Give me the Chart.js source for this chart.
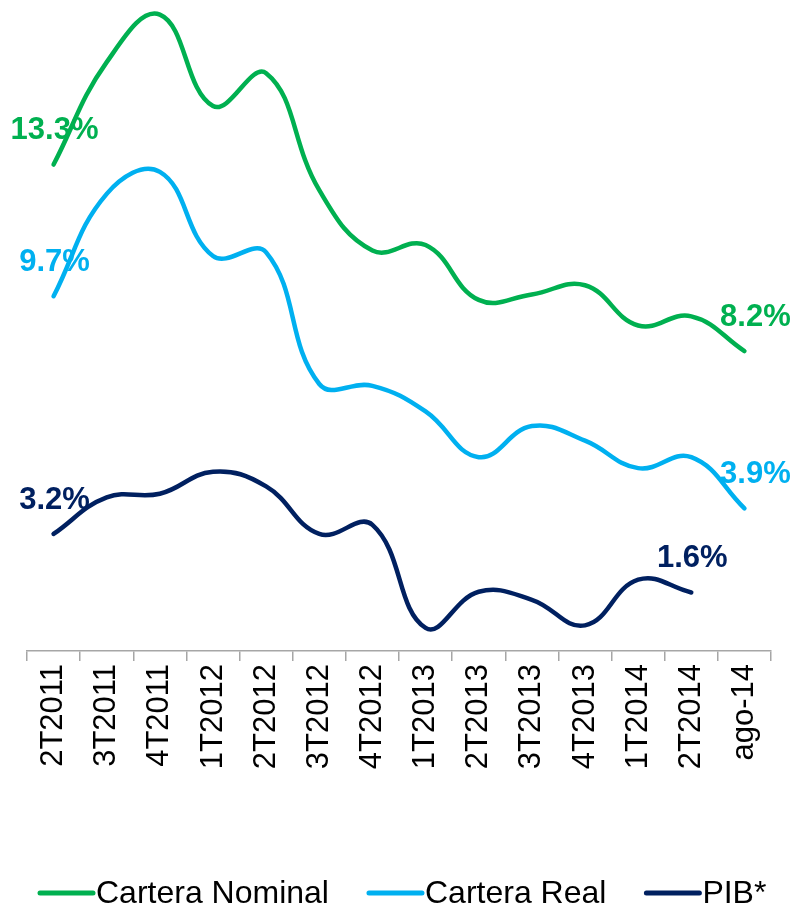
<!DOCTYPE html>
<html>
<head>
<meta charset="utf-8">
<script src="https://cdn.jsdelivr.net/npm/chart.js@4/dist/chart.umd.min.js"></script>
<style>
    body { margin: 0; background: #fff; }
    #wrap { width: 795px; height: 910px; }
</style>
</head>
<body>
<div id="wrap"><canvas id="cartera" width="795" height="910"></canvas></div>
<script>
// periods on the x axis
const periods = ['2T2011', '3T2011', '4T2011', '1T2012', '2T2012', '3T2012', '4T2012',
    '1T2013', '2T2013', '3T2013', '4T2013', '1T2014', '2T2014', 'ago-14'];

// growth rates, %
const carteraNominal = [13.3, 16.1, 17.4, 14.9, 15.8, 12.6, 10.95, 11.1, 9.6, 9.75, 10.0, 8.9, 9.15, 8.2];
const carteraReal = [9.7, 12.5, 13.1, 10.8, 10.9, 7.3, 7.25, 6.55, 5.3, 6.15, 5.75, 5.0, 5.3, 3.9];
const pib = [3.2, 4.2, 4.3, 4.9, 4.5, 3.2, 3.45, 0.63, 1.62, 1.4, 0.7, 1.95, 1.6, null];

const seriesNames = ['Cartera Nominal', 'Cartera Real', 'PIB*'];
const seriesColors = ['#00B050', '#00B0F0', '#002060'];

const FONT = '"Liberation Sans", Arial, sans-serif';

// first / last value labels above the line ends
const endLabels = {
    id: 'endLabels',
    afterDatasetsDraw(chart) {
        const ctx = chart.ctx;
        const last = chart.data.labels.length - 1;
        ctx.save();
        ctx.font = 'bold 31px ' + FONT;
        ctx.textAlign = 'center';
        ctx.textBaseline = 'middle';
        chart.data.datasets.forEach((ds, i) => {
            const pts = chart.getDatasetMeta(i).data;
            const idx = [];
            ds.data.forEach((v, k) => { if (v !== null) idx.push(k); });
            [idx[0], idx[idx.length - 1]].forEach(k => {
                const txt = ds.data[k].toFixed(1) + '%';
                // labels on the very last category sit a bit to the right
                const dx = k === last ? 11 : 1;
                ctx.fillStyle = ds.borderColor;
                ctx.fillText(txt, pts[k].x + dx, pts[k].y - 34);
            });
        });
        ctx.restore();
    }
};

// legend with short line swatches hugging the text
const lineLegend = {
    id: 'lineLegend',
    afterDraw(chart) {
        const ctx = chart.ctx;
        const y = 893;
        let x = 40;
        ctx.save();
        ctx.font = '32px ' + FONT;
        ctx.textBaseline = 'middle';
        ctx.textAlign = 'left';
        chart.data.datasets.forEach(ds => {
            ctx.strokeStyle = ds.borderColor;
            ctx.lineWidth = 5;
            ctx.lineCap = 'round';
            ctx.beginPath();
            ctx.moveTo(x, y);
            ctx.lineTo(x + 53, y);
            ctx.stroke();
            x += 56;
            ctx.fillStyle = '#000';
            ctx.fillText(ds.label, x, y + 1);
            x += ctx.measureText(ds.label).width + 40;
        });
        ctx.restore();
    }
};

const values = [carteraNominal, carteraReal, pib];

new Chart(document.getElementById('cartera'), {
    type: 'line',
    data: {
        labels: periods,
        datasets: values.map((v, i) => ({
            label: seriesNames[i],
            data: v,
            borderColor: seriesColors[i],
            backgroundColor: seriesColors[i],
            borderWidth: 4.5,
            borderCapStyle: 'round',
            tension: 0.42,
            pointRadius: 0,
            fill: false,
            clip: false,
            spanGaps: false
        }))
    },
    options: {
        responsive: false,
        animation: false,
        layout: { padding: { left: 27, right: 24, top: 0, bottom: 0 } },
        plugins: {
            legend: { display: false },
            tooltip: { enabled: false }
        },
        scales: {
            x: {
                offset: true,
                grid: {
                    offset: true,
                    drawOnChartArea: false,
                    drawTicks: true,
                    tickLength: 10,
                    color: '#A6A6A6',
                    lineWidth: 1.5
                },
                border: { display: true, color: '#A6A6A6', width: 1.5 },
                ticks: {
                    autoSkip: false,
                    maxRotation: 90,
                    minRotation: 90,
                    padding: 3,
                    color: '#000',
                    font: { family: FONT, size: 31 }
                },
                afterFit(scale) {
                    scale.height = 259;
                }
            },
            y: {
                display: false,
                min: 0,
                max: 17.8
            }
        }
    },
    plugins: [endLabels, lineLegend]
});
</script>
</body>
</html>
